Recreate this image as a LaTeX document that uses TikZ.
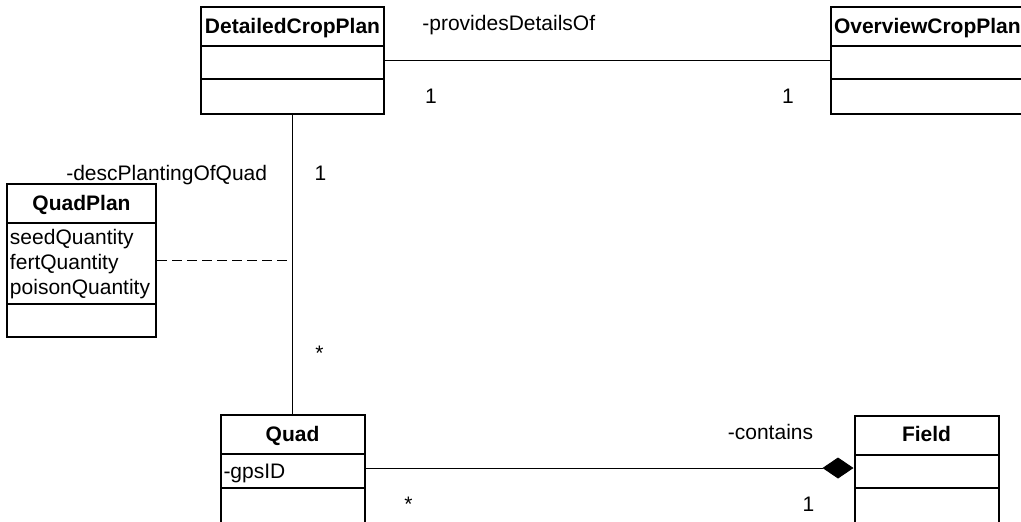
\documentclass[tikz,border=0pt]{standalone}
\usepackage{fontspec}
\setmainfont{Liberation Sans}
\usetikzlibrary{positioning,shapes,arrows.meta,calc}

\newcommand{\classhead}[1]{\rule[-6pt]{0pt}{18.5pt}\textbf{#1}}
\newcommand{\emptypart}{\rule{0pt}{15.5pt}}
\newcommand{\lastpart}{\rule{0pt}{16.5pt}}
\newcommand{\attrline}[1]{\rule[-4.5pt]{0pt}{16pt}#1}

\begin{document}
\begin{tikzpicture}[
    every node/.style={font=\fontsize{10.5pt}{12.5pt}\selectfont},
    umlclass/.style={draw, line width=1pt, rectangle split, rectangle split parts=3,
        rectangle split part align={center,left,left}, align=left,
        inner xsep=1.5pt, inner ysep=0pt},
    assoc/.style={line width=0.5pt},
    role/.style={inner sep=0pt, anchor=base west},
    mult/.style={inner sep=0pt, anchor=base}
]
    \useasboundingbox (0,0) rectangle (510.5pt,-260.5pt);

    \node[umlclass, minimum width=91.5pt, anchor=north west] (detailed) at (100pt,-3pt)
        {\classhead{DetailedCropPlan}\nodepart{two}\emptypart\nodepart{three}\lastpart};
    \node[umlclass, minimum width=100pt, rectangle split part align={left,left,left},
        right=222.5pt of detailed] (overview)
        {\classhead{OverviewCropPlan}\nodepart{two}\emptypart\nodepart{three}\lastpart};
    \node[umlclass, minimum width=72pt, below=149.5pt of detailed] (quad)
        {\classhead{Quad}\nodepart{two}\attrline{-gpsID}\nodepart{three}\lastpart};
    \node[umlclass, minimum width=72pt, right=244pt of quad] (field)
        {\classhead{Field}\nodepart{two}\emptypart\nodepart{three}\lastpart};
    \node[umlclass, minimum width=74.5pt, below left=34pt and 21.5pt of detailed] (quadplan)
        {\classhead{QuadPlan}\nodepart{two}\rule{0pt}{10pt}seedQuantity\\fertQuantity\\poisonQuantity\rule[-4.5pt]{0pt}{4.5pt}\nodepart{three}\rule{0pt}{15.5pt}};

    \coordinate (providesStart) at ($(detailed.text split east)+(0,-7pt)$);
    \coordinate (providesEnd) at (providesStart -| overview.west);
    \draw[assoc] (providesStart) -- (providesEnd);
    \node[role] (providesRole) at ($(providesStart)+(18.5pt,14.75pt)$) {-providesDetailsOf};
    \node[mult] (detailedOne) at ($(providesStart)+(23pt,-21.5pt)$) {1};
    \node[mult] (overviewOne) at ($(providesEnd)+(-21pt,-21.5pt)$) {1};

    \draw[assoc] (detailed.south) -- (quad.north);
    \node[role, anchor=base east] (descRole) at ($(detailed.south)+(-12.5pt,-32.5pt)$) {-descPlantingOfQuad};
    \node[mult] (descOne) at ($(detailed.south)+(14pt,-32.5pt)$) {1};
    \node[mult] (quadMany) at ($(quad.north)+(13.5pt,27pt)$) {*};
    \draw[assoc, dash pattern=on 5pt off 2.5pt] (quadplan.east) -- (quadplan.east -| detailed.south);

    \coordinate (containsStart) at ($(quad.text split east)+(0,-7pt)$);
    \coordinate (containsEnd) at (containsStart -| field.west);
    \draw[assoc, -{Diamond[length=15.5pt, width=10.5pt]}] (containsStart) -- (containsEnd);
    \node[role, anchor=base east] (containsRole) at ($(containsEnd)+(-20pt,14.5pt)$) {-contains};
    \node[mult] (containsMany) at ($(containsStart)+(21.5pt,-21.5pt)$) {*};
    \node[mult] (fieldOne) at ($(containsEnd)+(-22.5pt,-21.5pt)$) {1};
\end{tikzpicture}
\end{document}
